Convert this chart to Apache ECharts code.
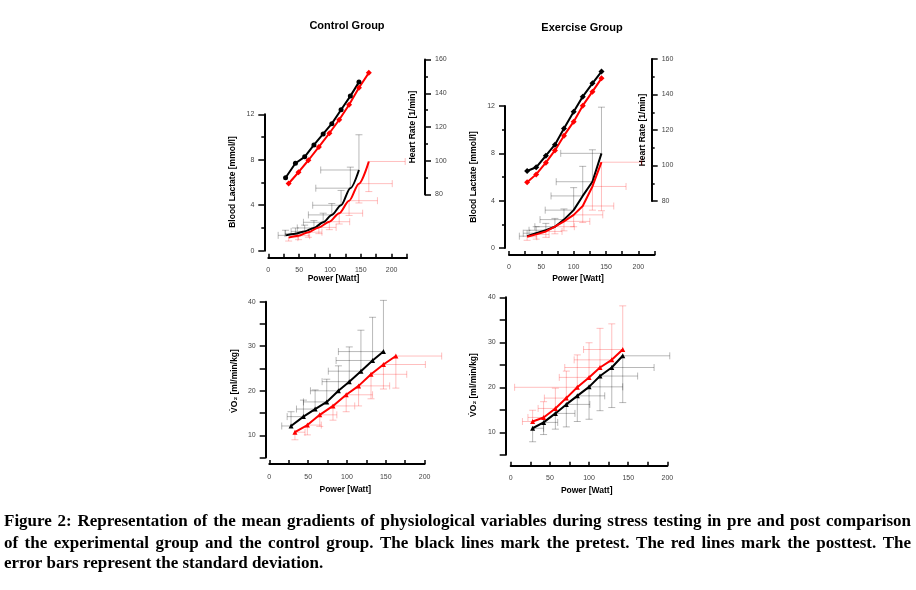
<!DOCTYPE html>
<html><head><meta charset="utf-8">
<script src="https://cdn.jsdelivr.net/npm/echarts@6/dist/echarts.min.js"></script>
<style>html,body{margin:0;padding:0;background:#fff}#c{width:916px;height:590px}</style>
</head><body><div id="c"></div>
<script>
// ---------- DATA ----------
// Control group
const ctrlPrePower  = [28, 44, 59, 74, 89, 103, 118, 133, 147];
const ctrlPostPower = [33, 49, 65, 82, 99, 115, 131, 147, 163];
const ctrlPreHR   = [89.9, 98.5, 102.3, 109.4, 115.9, 122.0, 130.2, 138.3, 146.6];
const ctrlPostHR  = [86.5, 93.2, 100.3, 108.2, 116.3, 124.3, 133.2, 143.3, 152.1];
const ctrlPreLactate   = [1.35, 1.5, 1.7, 2.0, 2.5, 3.15, 4.0, 5.5, 7.1];
const ctrlPreLactateSD = [0.45, 0.5, 0.55, 0.65, 0.8, 1.0, 1.3, 1.85, 3.1];
const ctrlPrePowerSD   = [12, 17, 22, 27, 32, 38, 46, 56, 62];
const ctrlPostLactate   = [1.15, 1.32, 1.63, 2.05, 2.55, 3.3, 4.4, 5.9, 7.85];
const ctrlPostLactateSD = [0.3, 0.35, 0.45, 0.55, 0.7, 0.95, 1.3, 1.7, 2.65];
const ctrlPostPowerSD   = [15, 18, 22, 28, 33, 38, 46, 54, 59];
const ctrlPreVO2    = [12.1, 14.2, 15.9, 17.5, 20.0, 22.05, 24.4, 26.8, 28.8];
const ctrlPreVO2SD  = [3.2, 3.7, 4.3, 5.1, 5.6, 7.8, 9.2, 9.7, 11.5];
const ctrlPreVO2PowerSD = [12, 21, 24, 30, 36, 35, 42, 47, 58];
const ctrlPostVO2   = [10.7, 12.3, 14.6, 16.6, 19.1, 21.1, 23.7, 25.9, 27.8];
const ctrlPostVO2SD = [1.7, 2.2, 2.6, 3.2, 3.8, 4.5, 5.5, 5.5, 7.2];
const ctrlPostVO2PowerSD = [13, 18, 22, 28, 34, 40, 46, 54, 59];

// Exercise group
const exPower = [28, 42, 57, 71, 85, 100, 114, 129, 143];
const exPreHR  = [96.9, 99.0, 105.5, 111.7, 120.9, 130.3, 138.8, 146.3, 152.9];
const exPostHR = [90.5, 95.0, 101.6, 108.5, 116.8, 124.7, 133.7, 141.6, 149.1];
const exPreLactate   = [1.0, 1.25, 1.5, 1.8, 2.4, 3.2, 4.4, 5.6, 8.0];
const exPreLactateSD = [0.5, 0.55, 0.58, 0.7, 0.9, 1.9, 2.5, 2.7, 3.9];
const exPrePowerSD   = [12, 20, 26, 31, 37, 44, 49, 56, 63];
const exPostLactate   = [0.95, 1.15, 1.4, 1.8, 2.25, 2.8, 3.55, 5.2, 7.25];
const exPostLactateSD = [0.3, 0.4, 0.5, 0.6, 0.8, 1.0, 1.4, 2.0, 4.1];
const exPostPowerSD   = [15, 20, 25, 30, 40, 45, 48, 52, 62];
const exPreVO2    = [10.9, 12.2, 14.2, 16.2, 18.1, 20.1, 22.5, 24.4, 27.0];
const exPreVO2SD  = [3.0, 2.7, 3.5, 5.0, 5.7, 7.2, 7.7, 8.9, 10.4];
const exPreVO2PowerSD = [14, 18, 25, 30, 35, 43, 48, 54, 60];
const exPostVO2   = [12.4, 13.3, 15.3, 17.6, 20.0, 22.2, 24.4, 26.1, 28.4];
const exPostVO2SD = [2.5, 3.5, 4.5, 6.0, 7.2, 7.7, 8.7, 8.0, 9.7];
const exPostVO2PowerSD = [13, 20, 22, 28, 80, 38, 45, 48, 50];

// Text
const panelTitles = ['Control Group', 'Exercise Group'];
const captionLines = [
  'Figure 2: Representation of the mean gradients of physiological variables during stress testing in pre and post comparison',
  'of the experimental group and the control group. The black lines mark the pretest. The red lines mark the posttest. The',
  'error bars represent the standard deviation.'
];

// ---------- HELPERS ----------
const pairs = (xs, ys) => xs.map((x, i) => [x, ys[i]]);
const quads = (xs, ys, sx, sy) => xs.map((x, i) => [x, ys[i], sx[i], sy[i]]);
const SANS = '"Liberation Sans", Arial, sans-serif';
const GRAY = 'rgba(0,0,0,0.28)';
const PINK = 'rgba(255,0,0,0.25)';

function errBar(dirX, dirY, color) {
  return function (params, api) {
    const x = api.value(0), y = api.value(1), sx = api.value(2), sy = api.value(3);
    const p = api.coord([x, y]);
    const ph = api.coord([x + dirX * sx, y]);
    const pv = api.coord([x, y + dirY * sy]);
    const c = 3.5;
    const st = { stroke: color, lineWidth: 1 };
    return { type: 'group', children: [
      { type: 'line', shape: { x1: p[0], y1: p[1], x2: ph[0], y2: ph[1] }, style: st },
      { type: 'line', shape: { x1: ph[0], y1: ph[1] - c, x2: ph[0], y2: ph[1] + c }, style: st },
      { type: 'line', shape: { x1: p[0], y1: p[1], x2: pv[0], y2: pv[1] }, style: st },
      { type: 'line', shape: { x1: pv[0] - c, y1: pv[1], x2: pv[0] + c, y2: pv[1] }, style: st }
    ]};
  };
}
function errSeries(xi, data, dirX, dirY, color) {
  return { type: 'custom', xAxisIndex: xi, yAxisIndex: xi, data, clip: false, z: 1,
    renderItem: errBar(dirX, dirY, color), silent: true };
}
function lineSeries(xi, data, color, symbol, size, smooth) {
  return { type: 'line', xAxisIndex: xi, yAxisIndex: xi, data, z: 5,
    smooth: smooth || false, smoothMonotone: 'x',
    symbol: symbol || 'none', symbolSize: size || 0, showSymbol: !!symbol,
    lineStyle: { color, width: 2 }, itemStyle: { color } };
}
const axisLineStyle = { show: true, onZero: false, lineStyle: { color: '#000', width: 2 } };
const labelStyle = (fmtMod, margin) => ({ fontSize: 7, color: '#444', fontFamily: SANS, margin,
  formatter: v => (Math.round(v) % fmtMod === 0 ? String(v) : '') });

function xAx(grid, max, offset) {
  return { type: 'value', gridIndex: grid, min: 0, max, interval: 25, offset,
    axisLine: axisLineStyle,
    axisTick: { show: true, inside: true, length: 4, lineStyle: { color: '#000', width: 1.5 } },
    axisLabel: labelStyle(50, 9), splitLine: { show: false } };
}
function xHidden(grid, max) {
  return { type: 'value', gridIndex: grid, min: 0, max, show: false, splitLine: { show: false } };
}
function yAx(grid, min, max, interval, labelMod, offset, position, minorSplit) {
  return { type: 'value', gridIndex: grid, min, max, interval, offset, position: position || 'left',
    axisLine: axisLineStyle,
    axisTick: { show: true, length: 6, lineStyle: { color: '#000', width: 1.5 } },
    minorTick: { show: !!minorSplit, splitNumber: minorSplit || 5, length: 3, lineStyle: { color: '#000', width: 1.5 } },
    axisLabel: labelStyle(labelMod, 10), splitLine: { show: false }, minorSplitLine: { show: false } };
}
function gridBox(left, top, width, height) {
  return { left, top, width, height, containLabel: false, outerBoundsMode: 'none', show: false };
}
function txt(x, y, text, font, rot) {
  return { type: 'text', x, y, rotation: rot || 0, silent: true,
    style: { text, font, fill: '#000', textAlign: 'center', textVerticalAlign: 'middle',
             align: 'center', verticalAlign: 'middle' } };
}

// caption, justified
const capFont = 'bold 17px "Liberation Serif", "Times New Roman", serif';
const meas = document.createElement('canvas').getContext('2d');
meas.font = capFont;
function captionElems(text, y, justify) {
  const L = 4, R = 911;
  if (!justify) {
    return [{ type: 'text', x: L, y, silent: true, style: { text, font: capFont, fill: '#000',
      textAlign: 'left', align: 'left', textVerticalAlign: 'middle', verticalAlign: 'middle' } }];
  }
  const words = text.split(' ');
  const ws = words.map(w => meas.measureText(w).width);
  const total = ws.reduce((a, b) => a + b, 0);
  const gap = (R - L - total) / (words.length - 1);
  let x = L;
  return words.map((w, i) => {
    const e = { type: 'text', x, y, silent: true, style: { text: w, font: capFont, fill: '#000',
      textAlign: 'left', align: 'left', textVerticalAlign: 'middle', verticalAlign: 'middle' } };
    x += ws[i] + gap;
    return e;
  });
}

const nameFont = 'bold 8.5px ' + SANS;
const titleFont = 'bold 11px ' + SANS;
const R90 = Math.PI / 2;

const option = {
  animation: false,
  backgroundColor: '#fff',
  grid: [
    gridBox(268.3, 114.3, 138.75, 136.4),   // 0 control lactate
    gridBox(268.3, 59.5, 156.7, 135),       // 1 control HR
    gridBox(509, 106, 145.5, 142),          // 2 exercise lactate
    gridBox(509, 59, 142.7, 142),           // 3 exercise HR
    gridBox(269.3, 301.7, 155.3, 155.9),    // 4 control VO2
    gridBox(510.7, 297.3, 156.7, 157.5)     // 5 exercise VO2
  ],
  xAxis: [
    xAx(0, 225, 7),
    xHidden(1, 254.1),
    xAx(2, 225, 7),
    xHidden(3, 220.66),
    xAx(4, 200, 6.5),
    xAx(5, 200, 11)
  ],
  yAxis: [
    yAx(0, 0, 12, 4, 4, 4, 'left', 2),
    yAx(1, 80, 160, 20, 20, 0, 'right', 2),
    yAx(2, 0, 12, 4, 4, 4, 'left', 2),
    yAx(3, 80, 160, 20, 20, 0, 'right', 2),
    yAx(4, 5, 40, 5, 10, 3.6, 'left', 0),
    yAx(5, 5, 40, 5, 10, 5, 'left', 0)
  ],
  series: [
    // Control lactate
    errSeries(0, quads(ctrlPrePower, ctrlPreLactate, ctrlPrePowerSD, ctrlPreLactateSD), -1, 1, GRAY),
    errSeries(0, quads(ctrlPostPower, ctrlPostLactate, ctrlPostPowerSD, ctrlPostLactateSD), 1, -1, PINK),
    lineSeries(0, pairs(ctrlPrePower, ctrlPreLactate), '#000', null, 0, 0.3),
    lineSeries(0, pairs(ctrlPostPower, ctrlPostLactate), '#ff0000', null, 0, 0.3),
    // Control HR
    lineSeries(1, pairs(ctrlPrePower, ctrlPreHR), '#000', 'circle', 5),
    lineSeries(1, pairs(ctrlPostPower, ctrlPostHR), '#ff0000', 'diamond', 6),
    // Exercise lactate
    errSeries(2, quads(exPower, exPreLactate, exPrePowerSD, exPreLactateSD), -1, 1, GRAY),
    errSeries(2, quads(exPower, exPostLactate, exPostPowerSD, exPostLactateSD), 1, -1, PINK),
    lineSeries(2, pairs(exPower, exPreLactate), '#000'),
    lineSeries(2, pairs(exPower, exPostLactate), '#ff0000'),
    // Exercise HR
    lineSeries(3, pairs(exPower, exPreHR), '#000', 'diamond', 6),
    lineSeries(3, pairs(exPower, exPostHR), '#ff0000', 'diamond', 6),
    // Control VO2
    errSeries(4, quads(ctrlPrePower, ctrlPreVO2, ctrlPreVO2PowerSD, ctrlPreVO2SD), -1, 1, GRAY),
    errSeries(4, quads(ctrlPostPower, ctrlPostVO2, ctrlPostVO2PowerSD, ctrlPostVO2SD), 1, -1, PINK),
    lineSeries(4, pairs(ctrlPrePower, ctrlPreVO2), '#000', 'triangle', 5),
    lineSeries(4, pairs(ctrlPostPower, ctrlPostVO2), '#ff0000', 'triangle', 5),
    // Exercise VO2
    errSeries(5, quads(exPower, exPreVO2, exPreVO2PowerSD, exPreVO2SD), 1, -1, GRAY),
    errSeries(5, quads(exPower, exPostVO2, exPostVO2PowerSD, exPostVO2SD), -1, 1, PINK),
    lineSeries(5, pairs(exPower, exPreVO2), '#000', 'triangle', 5),
    lineSeries(5, pairs(exPower, exPostVO2), '#ff0000', 'triangle', 5)
  ],
  graphic: { elements: [
    txt(347, 26, panelTitles[0], titleFont),
    txt(582, 28, panelTitles[1], titleFont),
    txt(233, 182, 'Blood Lactate [mmol/l]', nameFont, R90),
    txt(473.3, 177, 'Blood Lactate [mmol/l]', nameFont, R90),
    txt(413, 127, 'Heart Rate [1/min]', nameFont, R90),
    txt(642.7, 130, 'Heart Rate [1/min]', nameFont, R90),
    txt(333.5, 279, 'Power [Watt]', nameFont),
    txt(578, 279, 'Power [Watt]', nameFont),
    txt(345.3, 490, 'Power [Watt]', nameFont),
    txt(586.7, 490.7, 'Power [Watt]', nameFont),
    txt(235, 381, 'V\u0307O\u2082 [ml/min/kg]', nameFont, R90),
    txt(474, 385, 'V\u0307O\u2082 [ml/min/kg]', nameFont, R90),
    ...captionElems(captionLines[0], 522, true),
    ...captionElems(captionLines[1], 544, true),
    ...captionElems(captionLines[2], 564, false)
  ]}
};

const chart = echarts.init(document.getElementById('c'), null, { renderer: 'canvas' });
chart.setOption(option);
</script>
</body></html>
